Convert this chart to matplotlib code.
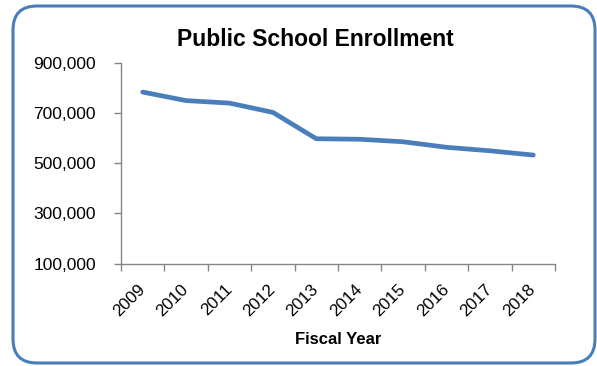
import matplotlib
matplotlib.use("Agg")
import matplotlib.pyplot as plt
from matplotlib.patches import FancyBboxPatch
from matplotlib.transforms import IdentityTransform, ScaledTranslation
from matplotlib.ticker import FuncFormatter

years = ["2009", "2010", "2011", "2012", "2013", "2014", "2015", "2016", "2017", "2018"]
enrollment = [783000, 749000, 739000, 702000, 597000, 595000, 585000, 563000, 549000, 532000]
y_ticks = [100000, 300000, 500000, 700000, 900000]

plt.rcParams["font.family"] = ["Liberation Sans", "DejaVu Sans"]

W, H, DPI = 597, 366, 100
fig = plt.figure(figsize=(W / DPI, H / DPI), dpi=DPI)

left, right, top, bottom = 121, 555, 62.7, 263.5
ax = fig.add_axes([left / W, (H - bottom) / H, (right - left) / W, (bottom - top) / H])
ax.patch.set_alpha(0)

x = list(range(len(years)))
ax.plot(x, enrollment, color="#4A7EBB", linewidth=3.4, solid_capstyle="round",
        solid_joinstyle="round", clip_on=False)

ax.set_xlim(-0.5, len(years) - 0.5)
ax.set_ylim(y_ticks[0], y_ticks[-1])
ax.set_yticks(y_ticks)
ax.yaxis.set_major_formatter(FuncFormatter(lambda v, p: f"{int(v):,}"))

# category boundaries carry the tick marks, centres carry the labels
ax.set_xticks([i - 0.5 for i in range(len(years) + 1)])
ax.set_xticklabels([])
ax.set_xticks(x, minor=True)
ax.set_xticklabels(years, minor=True, rotation=45, ha="right", va="center",
                   rotation_mode="anchor", fontsize=12.3)
shift = ScaledTranslation(-4 / 72, 0, fig.dpi_scale_trans)
for lbl in ax.get_xticklabels(minor=True):
    lbl.set_transform(lbl.get_transform() + shift)
ax.tick_params(axis="x", which="minor", length=0, pad=17)
ax.tick_params(axis="x", which="major", length=5, color="#868686", width=1)
ax.tick_params(axis="y", length=5, color="#868686", width=1, labelsize=12.5, pad=13)

for s in ["top", "right"]:
    ax.spines[s].set_visible(False)
for s in ["left", "bottom"]:
    ax.spines[s].set_color("#868686")
    ax.spines[s].set_linewidth(1)

# rounded chart-area frame
frame = FancyBboxPatch((13, 3), 582, 357, boxstyle="round,pad=0,rounding_size=24",
                       transform=IdentityTransform(), facecolor="none",
                       edgecolor="#4A7EBB", linewidth=2.2, zorder=5)
fig.patches.append(frame)

fig.text(315 / W, 1 - 40 / H, "Public School Enrollment", ha="center", va="center",
         fontsize=16.5, fontweight="bold")
fig.text(338 / W, 1 - 340 / H, "Fiscal Year", ha="center", va="center",
         fontsize=12, fontweight="bold")

fig.savefig("out.png", dpi=DPI, facecolor="white")
